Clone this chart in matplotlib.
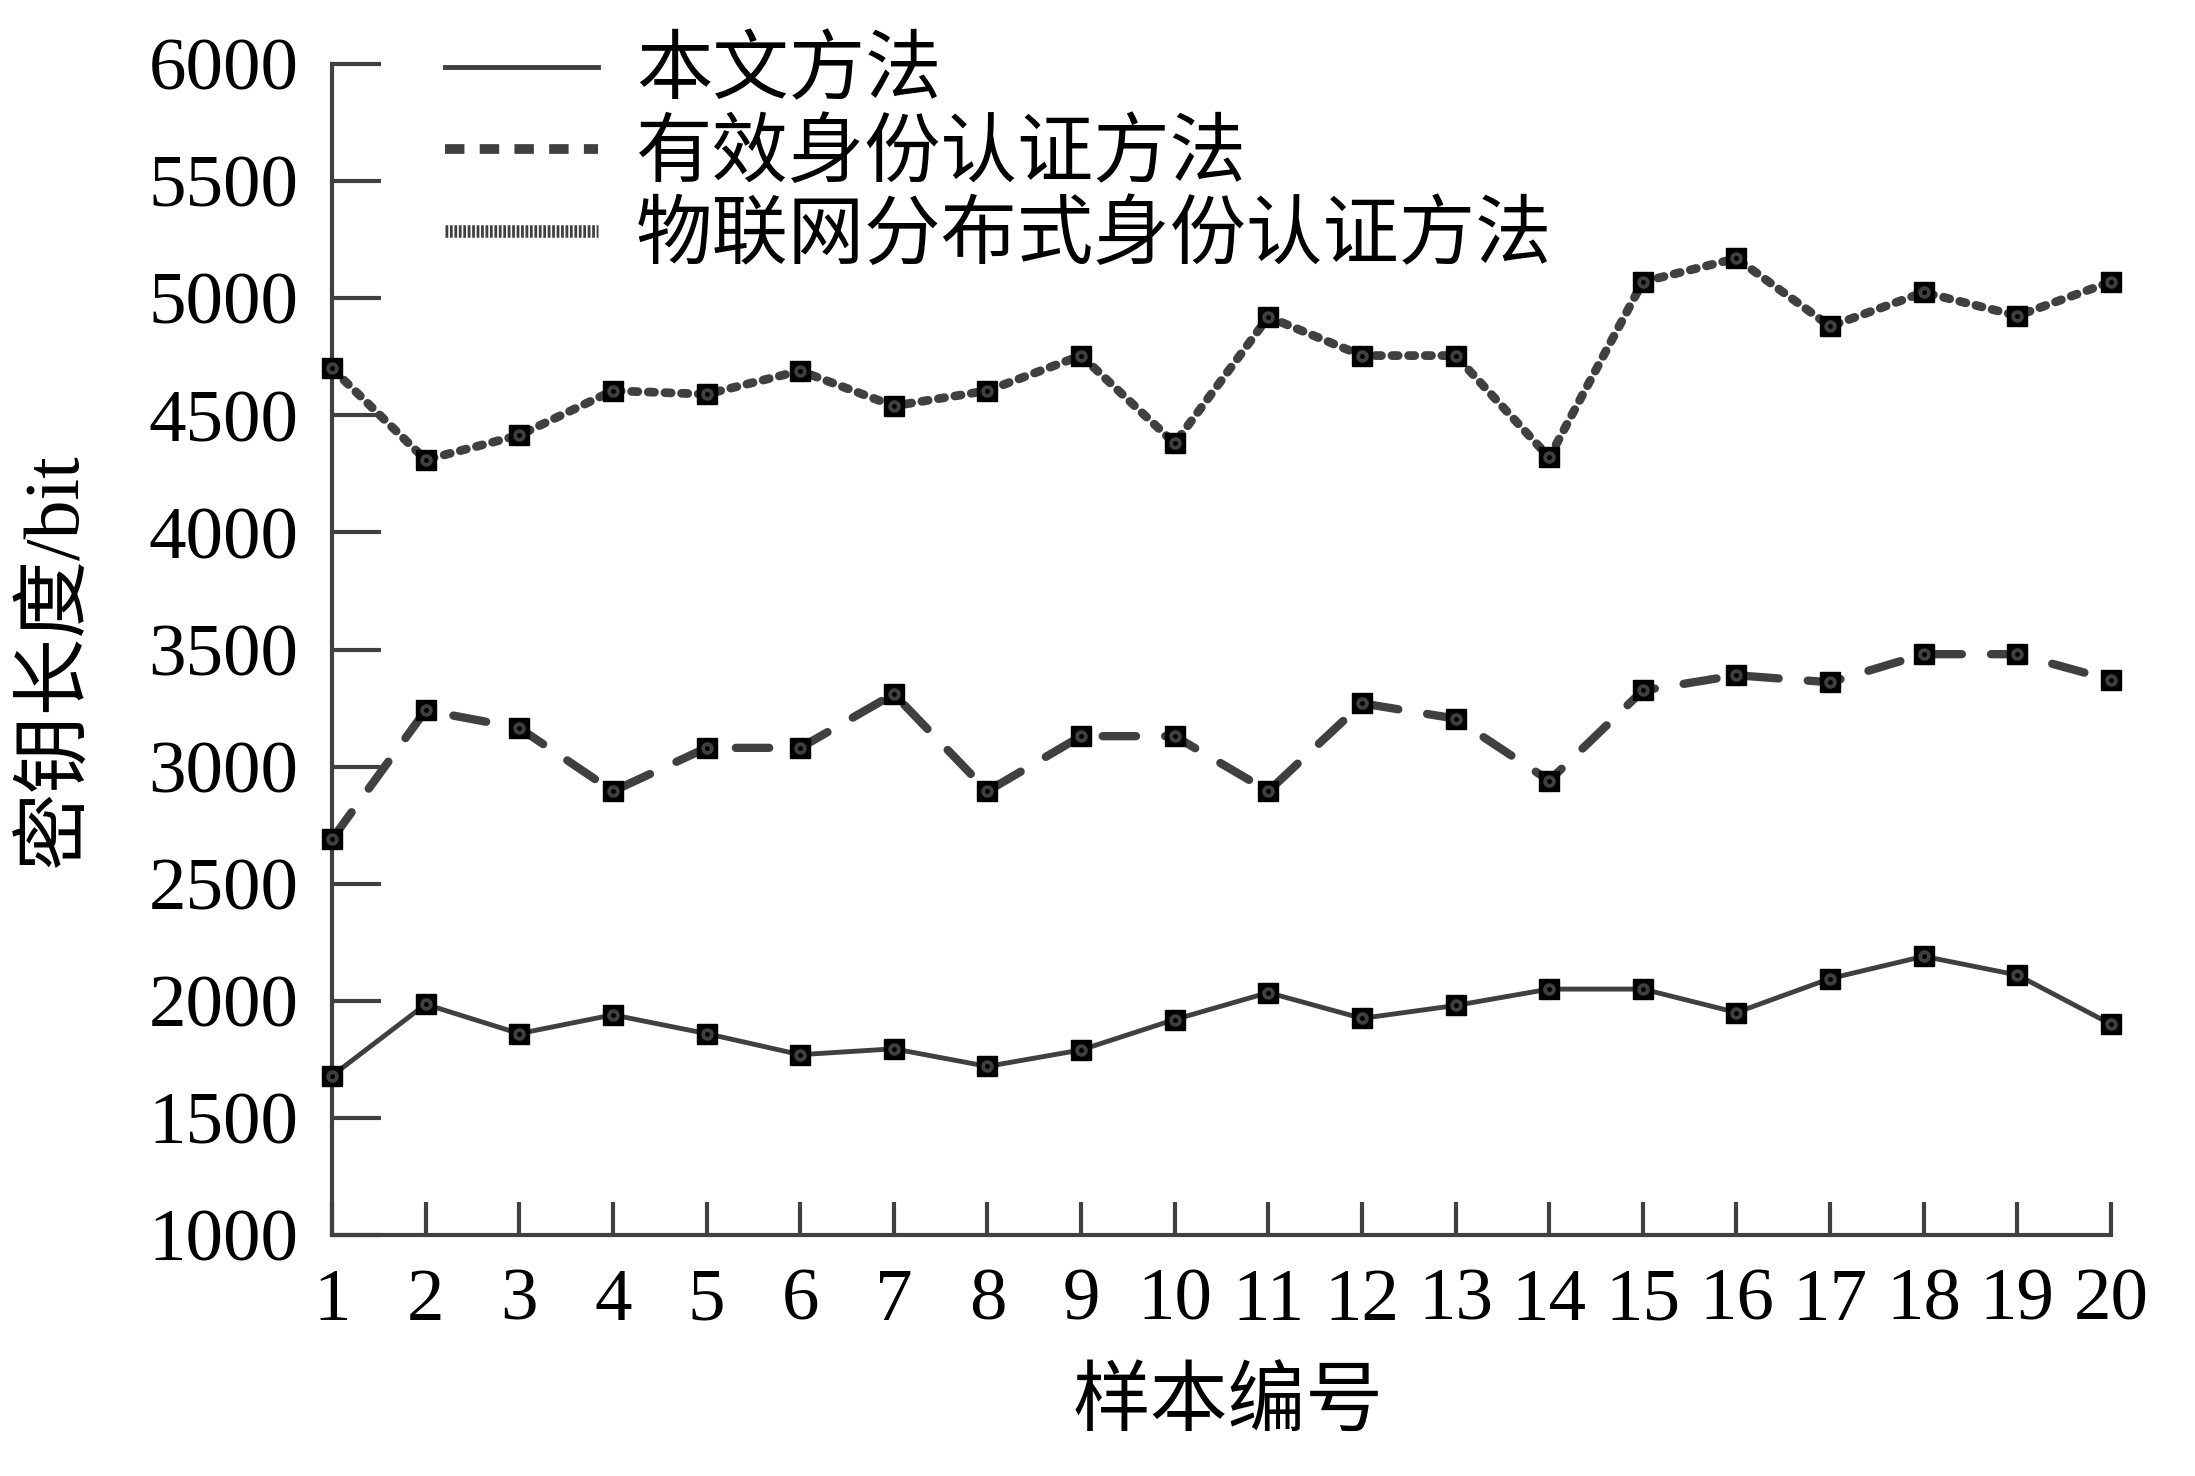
import matplotlib
matplotlib.use("Agg")
import matplotlib.pyplot as plt
from matplotlib.lines import Line2D

plt.rcParams['font.family'] = ['Liberation Serif', 'Noto Sans CJK SC', 'DejaVu Sans']
plt.rcParams['lines.scale_dashes'] = False

# 数据
samples = list(range(1, 21))
ours = [1680, 1985, 1860, 1940, 1860, 1770, 1795, 1720, 1790, 1920,
        2035, 1925, 1980, 2050, 2050, 1950, 2095, 2190, 2110, 1900]
effective = [2690, 3240, 3165, 2895, 3080, 3080, 3310, 2895, 3130, 3130,
             2895, 3270, 3205, 2940, 3325, 3390, 3360, 3480, 3480, 3370]
iot = [4700, 4310, 4415, 4605, 4590, 4690, 4540, 4605, 4755, 4380,
       4920, 4755, 4755, 4320, 5070, 5170, 4880, 5025, 4925, 5070]
labels = ['本文方法', '有效身份认证方法', '物联网分布式身份认证方法']
yticks = [1000, 1500, 2000, 2500, 3000, 3500, 4000, 4500, 5000, 5500, 6000]

GRAY = '#404040'
W, H = 2195, 1476
fig = plt.figure(figsize=(W / 100, H / 100), dpi=100)
ax = fig.add_axes([332 / W, 1 - 1235 / H, (2111 - 332) / W, (1235 - 64) / H])

styles = [
    dict(lw=3.5, ls='-'),
    dict(lw=6.0, ls=(0, (24, 21)), dash_capstyle='round'),
    dict(lw=6.3, ls=(0, (4.5, 7.5)), dash_capstyle='round'),
]
for ys, st in zip([ours, effective, iot], styles):
    ax.plot(samples, ys, color=GRAY, clip_on=False, zorder=3, **st)
    ax.plot(samples, ys, ls='none', marker='s', ms=14, mfc='black', mec='black',
            clip_on=False, zorder=4)
    ax.plot(samples, ys, ls='none', marker='o', ms=8, mfc=GRAY, mec=GRAY,
            clip_on=False, zorder=5)
    ax.plot(samples, ys, ls='none', marker='o', ms=2.5, mfc='black', mec='black',
            clip_on=False, zorder=6)

ax.set_xlim(1, 20)
ax.set_ylim(1000, 6000)
ax.set_xticks(samples)
ax.set_yticks(yticks)
for s in ['top', 'right']:
    ax.spines[s].set_visible(False)
for s in ['left', 'bottom']:
    ax.spines[s].set_color(GRAY)
    ax.spines[s].set_linewidth(3)
ax.tick_params(axis='y', direction='in', length=35, width=3, color=GRAY,
               labelsize=54, pad=24)
ax.tick_params(axis='x', direction='in', length=24, width=3, color=GRAY,
               labelsize=54, pad=24)

fig.text(57 / W, 1 - 661 / H, '密钥长度/bit', rotation=90, ha='center', va='center',
         fontsize=56)
fig.text(1228 / W, 1 - 1407 / H, '样本编号', ha='center', va='center', fontsize=56)

handles = [
    Line2D([], [], color=GRAY, lw=3.5),
    Line2D([], [], color=GRAY, lw=7, ls=(0, (14, 11))),
    Line2D([], [], color=GRAY, lw=9, ls=(0, (2, 1.2))),
]
ax.legend(handles, labels, loc='upper left', bbox_to_anchor=(445 / W, 1 - 38 / H),
          bbox_transform=fig.transFigure, frameon=False, fontsize=55,
          handlelength=2.0, handletextpad=0.5, labelspacing=0.14, borderpad=0,
          borderaxespad=0)

fig.savefig('out.png', dpi=100)
